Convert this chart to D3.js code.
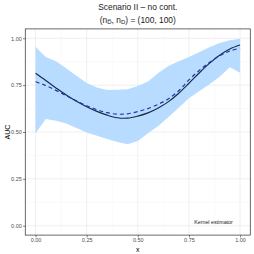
<!DOCTYPE html>
<html>
<head>
<meta charset="utf-8">
<script src="https://cdn.jsdelivr.net/npm/d3@7"></script>
<style>
  body { margin: 0; background: #fff; }
  text { font-family: "Liberation Sans", Arial, sans-serif; }
</style>
</head>
<body>
<div id="chart"></div>
<script>
// grid of x values
const xs = [0, 0.05, 0.1, 0.15, 0.2, 0.25, 0.3, 0.35, 0.4, 0.45, 0.5,
  0.55, 0.6, 0.65, 0.7, 0.75, 0.8, 0.85, 0.9, 0.95, 1.0];
// true AUC (solid)
const trueAuc = [0.813, 0.775, 0.735, 0.697, 0.664, 0.635, 0.610, 0.590, 0.576, 0.574, 0.585,
  0.602, 0.628, 0.662, 0.707, 0.760, 0.815, 0.866, 0.910, 0.943, 0.964];
// kernel estimate (dashed)
const estAuc = [0.768, 0.748, 0.722, 0.694, 0.666, 0.640, 0.619, 0.603, 0.595, 0.597, 0.609,
  0.625, 0.648, 0.677, 0.720, 0.778, 0.828, 0.871, 0.907, 0.932, 0.947];
// band
const upper = [0.955, 0.900, 0.877, 0.840, 0.800, 0.762, 0.738, 0.724, 0.726, 0.728, 0.745,
  0.770, 0.815, 0.852, 0.878, 0.900, 0.925, 0.952, 0.975, 0.990, 0.998];
const lower = [0.493, 0.569, 0.560, 0.545, 0.522, 0.498, 0.480, 0.463, 0.447, 0.434, 0.452,
  0.493, 0.532, 0.580, 0.630, 0.680, 0.718, 0.755, 0.795, 0.845, 0.816];
const xTicks = [0, 0.25, 0.5, 0.75, 1];
const yTicks = [0, 0.25, 0.5, 0.75, 1];
const minorTicks = [0.125, 0.375, 0.625, 0.875];

const width = 254, height = 254;
const panel = { left: 25.3, right: 250.3, top: 28.9, bottom: 235.1 };

const svg = d3.select('#chart').append('svg')
  .attr('width', width).attr('height', height);

const x = d3.scaleLinear().domain([-0.05, 1.05]).range([panel.left, panel.right]);
const y = d3.scaleLinear().domain([-0.05, 1.05]).range([panel.bottom, panel.top]);

const data = xs.map((d, i) => ({ x: d, t: trueAuc[i], e: estAuc[i], lo: lower[i], hi: upper[i] }));

// grid
const g = svg.append('g');
g.selectAll('.minx').data(minorTicks).enter().append('line')
  .attr('x1', d => x(d)).attr('x2', d => x(d))
  .attr('y1', panel.top).attr('y2', panel.bottom)
  .attr('stroke', '#f4f4f4').attr('stroke-width', 0.5);
g.selectAll('.miny').data(minorTicks).enter().append('line')
  .attr('y1', d => y(d)).attr('y2', d => y(d))
  .attr('x1', panel.left).attr('x2', panel.right)
  .attr('stroke', '#f4f4f4').attr('stroke-width', 0.5);
g.selectAll('.majx').data(xTicks).enter().append('line')
  .attr('x1', d => x(d)).attr('x2', d => x(d))
  .attr('y1', panel.top).attr('y2', panel.bottom)
  .attr('stroke', '#ebebeb').attr('stroke-width', 0.8);
g.selectAll('.majy').data(yTicks).enter().append('line')
  .attr('y1', d => y(d)).attr('y2', d => y(d))
  .attr('x1', panel.left).attr('x2', panel.right)
  .attr('stroke', '#ebebeb').attr('stroke-width', 0.8);

// ribbon
svg.append('path').datum(data)
  .attr('d', d3.area().x(d => x(d.x)).y0(d => y(d.lo)).y1(d => y(d.hi)))
  .attr('fill', '#b8dcff');

// lines
svg.append('path').datum(data)
  .attr('d', d3.line().curve(d3.curveCatmullRom).x(d => x(d.x)).y(d => y(d.t)))
  .attr('fill', 'none').attr('stroke', '#1b2a45').attr('stroke-width', 1.2);
svg.append('path').datum(data)
  .attr('d', d3.line().curve(d3.curveCatmullRom).x(d => x(d.x)).y(d => y(d.e)))
  .attr('fill', 'none').attr('stroke', '#2236b0').attr('stroke-width', 1.2)
  .attr('stroke-dasharray', '4,3');

// panel border
svg.append('rect')
  .attr('x', panel.left).attr('y', panel.top)
  .attr('width', panel.right - panel.left).attr('height', panel.bottom - panel.top)
  .attr('fill', 'none').attr('stroke', '#444').attr('stroke-width', 0.8);

// axes
const xAxis = d3.axisBottom(x).tickValues(xTicks).tickFormat(d3.format('.2f'))
  .tickSize(2.3).tickPadding(1.2);
const yAxis = d3.axisLeft(y).tickValues(yTicks).tickFormat(d3.format('.2f'))
  .tickSize(2.3).tickPadding(1.2);

const gx = svg.append('g').attr('transform', `translate(0,${panel.bottom})`).call(xAxis);
const gy = svg.append('g').attr('transform', `translate(${panel.left},0)`).call(yAxis);
[gx, gy].forEach(a => {
  a.select('.domain').remove();
  a.selectAll('.tick line').attr('stroke', '#333').attr('stroke-width', 0.6);
  a.selectAll('.tick text').attr('fill', '#4d4d4d').style('font-size', '5.5px')
    .style('font-family', '"Liberation Sans", Arial, sans-serif');
});

// annotation
svg.append('text')
  .attr('x', x(0.87)).attr('y', y(0.015))
  .attr('text-anchor', 'middle').attr('dominant-baseline', 'middle')
  .style('font-size', '5.3px').attr('fill', '#1a1a1a')
  .text('Kernel estimator');

// axis titles
svg.append('text')
  .attr('x', (panel.left + panel.right) / 2).attr('y', 251.5)
  .attr('text-anchor', 'middle').style('font-size', '7px')
  .text('x');
svg.append('text')
  .attr('transform', `translate(9.5,${(panel.top + panel.bottom) / 2}) rotate(-90)`)
  .attr('text-anchor', 'middle').style('font-size', '7px')
  .text('AUC');

// title
const cx = (panel.left + panel.right) / 2;
svg.append('text')
  .attr('x', cx).attr('y', 10)
  .attr('text-anchor', 'middle').style('font-size', '8.4px').attr('fill', '#1a1a1a')
  .text('Scenario II \u2013 no cont.');
const sub = svg.append('text')
  .attr('x', cx).attr('y', 22.5)
  .attr('text-anchor', 'middle').style('font-size', '8.4px').attr('fill', '#1a1a1a');
sub.append('tspan').text('(n');
sub.append('tspan').attr('dy', 1.8).style('font-size', '6px').text('D\u0305');
sub.append('tspan').attr('dy', -1.8).text(', n');
sub.append('tspan').attr('dy', 1.8).style('font-size', '6px').text('D');
sub.append('tspan').attr('dy', -1.8).text(') = (100, 100)');
</script>
</body>
</html>
